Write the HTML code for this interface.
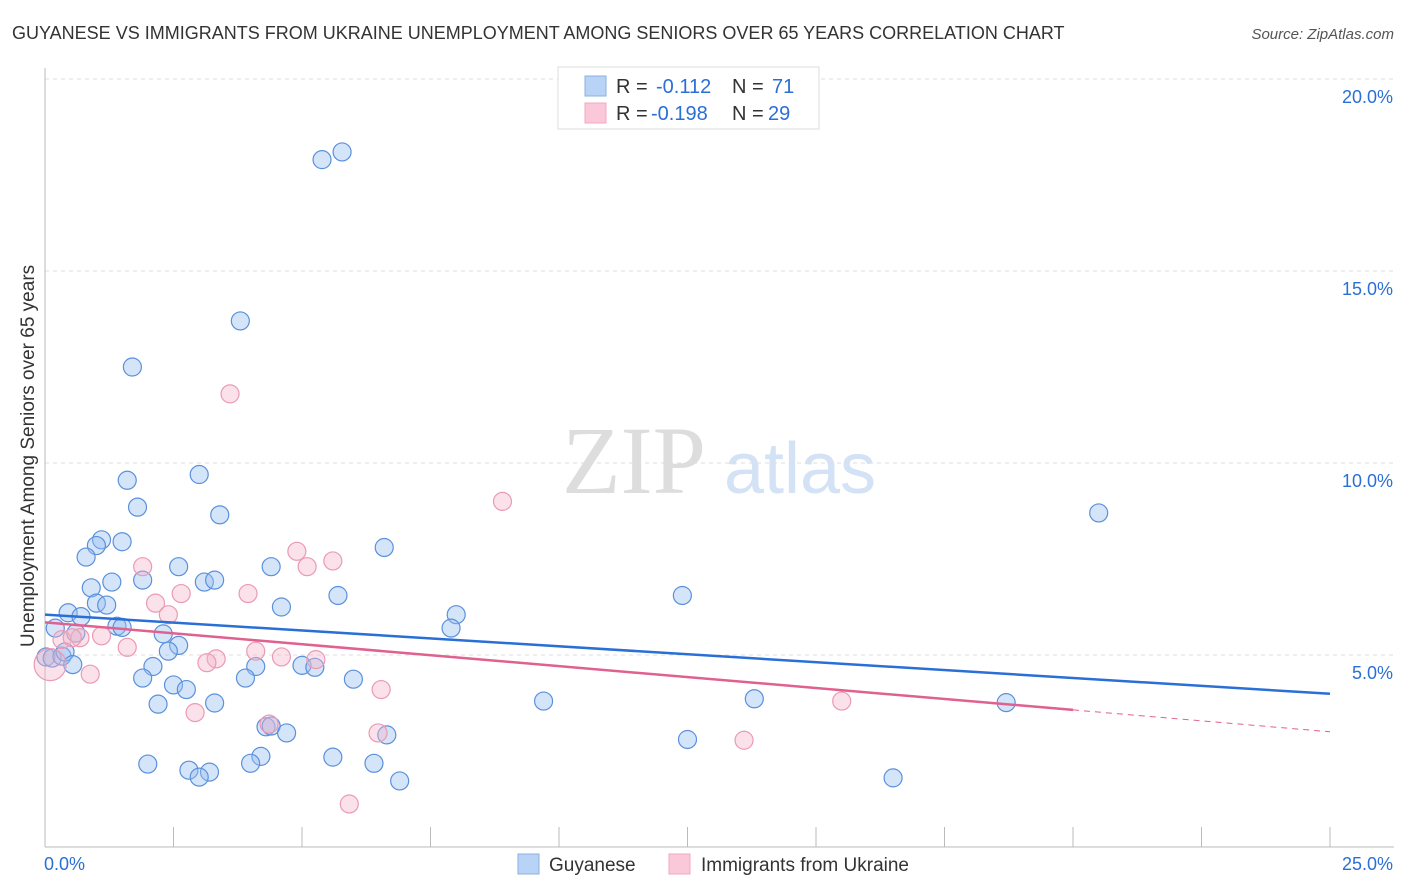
<!DOCTYPE html>
<html><head><meta charset="utf-8"><style>
body{margin:0;background:#fff;font-family:"Liberation Sans",sans-serif;}
svg{display:block}
</style></head><body>
<svg id="c" width="1406" height="892">
<text x="12" y="39" font-size="18" fill="#333">GUYANESE VS IMMIGRANTS FROM UKRAINE UNEMPLOYMENT AMONG SENIORS OVER 65 YEARS CORRELATION CHART</text>
<text x="1394" y="39" font-size="15" fill="#555" font-style="italic" text-anchor="end">Source: ZipAtlas.com</text>
<text x="634" y="493" font-size="96" fill="#ddd" font-family="Liberation Serif" text-anchor="middle">ZIP</text>
<text x="800" y="493" font-size="72" fill="#d4e2f5" text-anchor="middle">atlas</text>
<text transform="translate(34,456) rotate(-90)" font-size="19" fill="#333" text-anchor="middle">Unemployment Among Seniors over 65 years</text>
<g id="grid"></g><g id="pts"></g><g id="lines"></g>
<g>
<rect x="558" y="67" width="261" height="62" fill="#fff" stroke="#ddd"/>
<rect x="585" y="76" width="21" height="20" fill="#b8d3f5" stroke="#8ab0e0"/>
<rect x="585" y="103" width="21" height="20" fill="#fac8d8" stroke="#f0a8c0"/>
<text y="93" font-size="20" fill="#333"><tspan x="616">R =</tspan><tspan x="656" fill="#2a6fd6">-0.112</tspan><tspan x="732">N =</tspan><tspan x="772" fill="#2a6fd6">71</tspan></text>
<text y="120" font-size="20" fill="#333"><tspan x="616">R =</tspan><tspan x="651" fill="#2a6fd6">-0.198</tspan><tspan x="732">N =</tspan><tspan x="768" fill="#2a6fd6">29</tspan></text>
</g>
<g>
<rect x="518" y="854" width="21" height="20" fill="#b8d3f5" stroke="#8ab0e0"/>
<text x="549" y="871" font-size="19" fill="#333">Guyanese</text>
<rect x="669" y="854" width="21" height="20" fill="#fac8d8" stroke="#f0a8c0"/>
<text x="701" y="871" font-size="19" fill="#333">Immigrants from Ukraine</text>
</g>
</svg>
<script>
const yTicks=[5,10,15,20];
const xTickLabels=["0.0%","25.0%"];
const blueX=[5.39,5.78,3.8,1.7,3.0,1.6,1.8,3.4,20.5,1.1,1.5,1.0,0.8,6.6,2.6,4.4,1.3,0.9,1.9,3.1,3.3,5.7,12.4,1.0,1.2,0.45,0.7,4.6,8.0,7.9,0.2,1.4,1.5,2.3,0.6,2.6,2.4,0.02,0.14,0.33,0.39,0.54,2.1,4.1,5.0,5.25,1.9,2.5,3.9,6.0,2.75,2.2,3.3,9.7,13.8,18.7,4.3,4.4,4.7,6.65,12.5,4.2,5.6,4.0,6.4,2.0,2.8,3.2,3.0,6.9,16.5];
const blueY=[17.9,18.1,13.7,12.5,9.7,9.55,8.85,8.65,8.7,8.0,7.95,7.85,7.55,7.8,7.3,7.3,6.9,6.75,6.95,6.9,6.95,6.55,6.55,6.35,6.3,6.1,6.0,6.25,6.05,5.7,5.7,5.75,5.72,5.55,5.57,5.25,5.1,4.95,4.92,4.97,5.08,4.75,4.7,4.7,4.73,4.68,4.4,4.22,4.4,4.37,4.1,3.72,3.75,3.8,3.86,3.76,3.13,3.15,2.97,2.92,2.8,2.36,2.34,2.18,2.18,2.16,2.0,1.95,1.82,1.72,1.8];
const pinkX=[3.6,8.9,4.9,5.1,5.6,1.9,3.95,2.65,2.15,2.4,1.1,1.6,4.1,0.33,0.68,4.6,3.33,3.15,5.27,0.88,6.54,15.5,2.92,4.36,6.48,13.6,5.92,0.1,0.53];
const pinkY=[11.8,9.0,7.7,7.3,7.45,7.3,6.6,6.6,6.35,6.05,5.5,5.2,5.1,5.4,5.45,4.95,4.9,4.8,4.88,4.5,4.1,3.8,3.5,3.2,2.97,2.78,1.12,4.75,5.45];
const blueTrend=[6.05,3.99];
const pinkTrend=[5.85,3.0];
const pinkSolidEnd=20;
const NS="http://www.w3.org/2000/svg";
const X=v=>45+v/25*1285, Y=v=>847-v/5*192;
function mk(t,a,p){const e=document.createElementNS(NS,t);for(const k in a)e.setAttribute(k,a[k]);p.appendChild(e);return e;}
const g=document.getElementById('grid');
yTicks.forEach(v=>{const l=mk('line',{x1:45,x2:1394,y1:Y(v),y2:Y(v),stroke:'#ddd','stroke-dasharray':'4,4'},g);


const t=mk('text',{x:1393,y:Y(v)+24,'font-size':18,fill:'#2a6fd6','text-anchor':'end'},g);t.textContent=v.toFixed(1)+'%';

});
const ax=mk('line',{x1:45,x2:45,y1:68,y2:847,stroke:'#bbb'},g);


const bx=mk('line',{x1:45,x2:1394,y1:847,y2:847,stroke:'#bbb'},g);


for(let i=1;i<=10;i++){const l=mk('line',{x1:X(i*2.5),x2:X(i*2.5),y1:827,y2:847,stroke:'#bbb'},g);

}
[[xTickLabels[0],44,'start'],[xTickLabels[1],1393,'end']].forEach(a=>{const t=mk('text',{x:a[1],y:870,'font-size':18,fill:'#2a6fd6','text-anchor':a[2]},g);t.textContent=a[0];

});
const p=document.getElementById('pts');
blueX.forEach((x,i)=>{const c=mk('circle',{cx:X(x),cy:Y(blueY[i]),r:9,fill:'rgba(150,190,240,0.4)',stroke:'#5a90dc','stroke-width':1.2},p);

});
pinkX.forEach((x,i)=>{const c=mk('circle',{cx:X(x),cy:Y(pinkY[i]),r:i==27?16:9,fill:'rgba(245,180,200,0.4)',stroke:'#eb9ab4','stroke-width':1.2},p);

});
const L=document.getElementById('lines');
const b=mk('line',{x1:X(0),y1:Y(blueTrend[0]),x2:X(25),y2:Y(blueTrend[1]),stroke:'#2a6fd6','stroke-width':2.5},L);


const pm=v=>pinkTrend[0]+(pinkTrend[1]-pinkTrend[0])*v/25;
const pk=mk('line',{x1:X(0),y1:Y(pinkTrend[0]),x2:X(pinkSolidEnd),y2:Y(pm(pinkSolidEnd)),stroke:'#e0608f','stroke-width':2.5},L);


const pd=mk('line',{x1:X(pinkSolidEnd),y1:Y(pm(pinkSolidEnd)),x2:X(25),y2:Y(pinkTrend[1]),stroke:'#e0608f','stroke-width':1,'stroke-dasharray':'6,5'},L);


</script>
</body></html>
